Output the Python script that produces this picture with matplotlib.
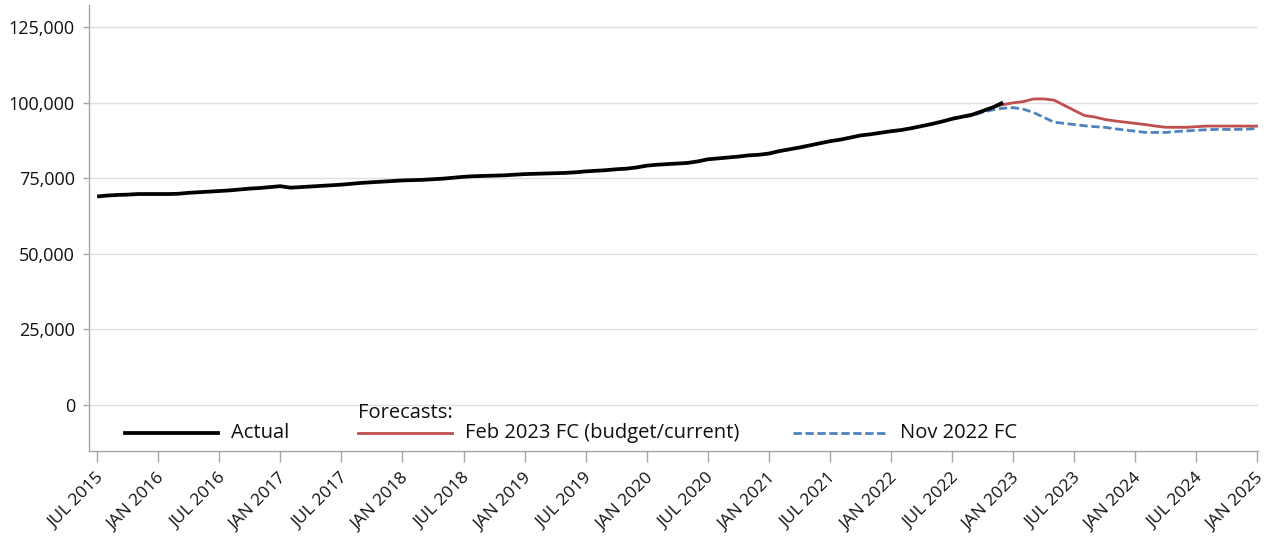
import numpy as np
import matplotlib
matplotlib.use('Agg')
import matplotlib.pyplot as plt
import matplotlib.transforms as mtransforms
from matplotlib.lines import Line2D
from matplotlib.ticker import FuncFormatter, MultipleLocator

# months counted from JUL 2015 (index 0)
actual_start = 0
actual = [69000, 69300, 69500, 69600, 69800, 69800, 69800, 69800, 69900, 70200,
          70400, 70600, 70800, 71000, 71300, 71600, 71800, 72100, 72400, 71900,
          72100, 72300, 72500, 72700, 72900, 73200, 73500, 73700, 73900, 74100,
          74300, 74400, 74500, 74700, 74900, 75200, 75500, 75700, 75800, 75900,
          76000, 76200, 76400, 76500, 76600, 76700, 76800, 77000, 77300, 77500,
          77700, 78000, 78200, 78600, 79200, 79500, 79700, 79900, 80100, 80600,
          81300, 81600, 81900, 82200, 82600, 82800, 83200, 84000, 84600, 85200,
          85900, 86600, 87300, 87800, 88500, 89200, 89600, 90100, 90600, 91000,
          91600, 92300, 93000, 93800, 94700, 95400, 96100, 97300, 98500, 100100]

feb23_start = 88
feb23_fc = [98600, 99400, 100000, 100400, 101300, 101300, 100900, 99200, 97500,
            95800, 95300, 94500, 94000, 93600, 93200, 92800, 92300, 91900, 91900,
            91900, 92100, 92300, 92300, 92300, 92300, 92300, 92300]

nov22_start = 84
nov22_fc = [94900, 95300, 95800, 96900, 97700, 98200, 98400, 97900, 96800, 95200,
            93600, 93200, 92800, 92400, 92100, 91900, 91400, 91000, 90600, 90200,
            90200, 90200, 90500, 90700, 90900, 91100, 91200, 91200, 91200, 91300,
            91500]

tick_months = list(range(0, 115, 6))
tick_labels = ['JUL 2015', 'JAN 2016', 'JUL 2016', 'JAN 2017', 'JUL 2017',
               'JAN 2018', 'JUL 2018', 'JAN 2019', 'JUL 2019', 'JAN 2020',
               'JUL 2020', 'JAN 2021', 'JUL 2021', 'JAN 2022', 'JUL 2022',
               'JAN 2023', 'JUL 2023', 'JAN 2024', 'JUL 2024', 'JAN 2025']

W, H = 1267, 543
plt.rcParams['font.family'] = ['Open Sans', 'DejaVu Sans']

fig = plt.figure(figsize=(W / 100, H / 100), dpi=100)
ax = fig.add_axes([89 / W, 1 - 451 / H, (1258 - 89) / W, (451 - 5) / H])

x_act = np.arange(len(actual)) + actual_start
x_feb = np.arange(len(feb23_fc)) + feb23_start
x_nov = np.arange(len(nov22_fc)) + nov22_start

ax.plot(x_nov, nov22_fc, color='#4f81bd', lw=2.0, dashes=(3, 1.3), zorder=3)
ax.plot(x_feb, feb23_fc, color='#c0504d', lw=2.0, zorder=3)
ax.plot(x_act, actual, color='black', lw=2.7, zorder=4, solid_capstyle='butt')

ax.set_xlim(-0.8, 114.05)
ax.set_ylim(-15300, 132400)

ax.yaxis.set_major_locator(MultipleLocator(25000))
ax.yaxis.set_major_formatter(FuncFormatter(lambda v, p: f'{int(v):,}'))
ax.grid(axis='y', color='#e0e0e0', lw=1.0, zorder=0)
ax.set_axisbelow(True)

# x tick marks, labels placed by hand so they sit a bit right of the tick
ax.set_xticks(tick_months)
ax.set_xticklabels([])
offset = mtransforms.ScaledTranslation(4 / 100, -25 / 100, fig.dpi_scale_trans)
lab_trans = ax.get_xaxis_transform() + offset
for m, lab in zip(tick_months, tick_labels):
    ax.text(m, 0, lab, transform=lab_trans, rotation=45, ha='right', va='center',
            rotation_mode='anchor', fontsize=12.5, color='#111111', clip_on=False)

for s in ('top', 'right'):
    ax.spines[s].set_visible(False)
for s in ('left', 'bottom'):
    ax.spines[s].set_color('#a6a6a6')
    ax.spines[s].set_linewidth(1.0)

ax.tick_params(axis='y', length=4.3, width=1, color='#a6a6a6', pad=5.8,
               labelsize=13, labelcolor='#111111')
ax.tick_params(axis='x', length=8, width=1, color='#a6a6a6')

# legend drawn by hand (positions in reference pixels)
def fx(px):
    return px / W

def fy(py):
    return 1 - py / H

leg_font = dict(fontsize=14.5, color='#111111', va='center')
fig.add_artist(Line2D([fx(125), fx(218)], [fy(433), fy(433)], color='black', lw=2.7))
fig.text(fx(231), fy(433), 'Actual', **leg_font)
fig.text(fx(358), fy(413), 'Forecasts:', **leg_font)
fig.add_artist(Line2D([fx(358), fx(452)], [fy(433), fy(433)], color='#c0504d', lw=2.0))
fig.text(fx(465), fy(433), 'Feb 2023 FC (budget/current)', **leg_font)
fig.add_artist(Line2D([fx(793), fx(888)], [fy(433), fy(433)], color='#4f81bd',
                      lw=2.0, dashes=(3, 1.3)))
fig.text(fx(900), fy(433), 'Nov 2022 FC', **leg_font)

fig.savefig('out.png', dpi=100)
